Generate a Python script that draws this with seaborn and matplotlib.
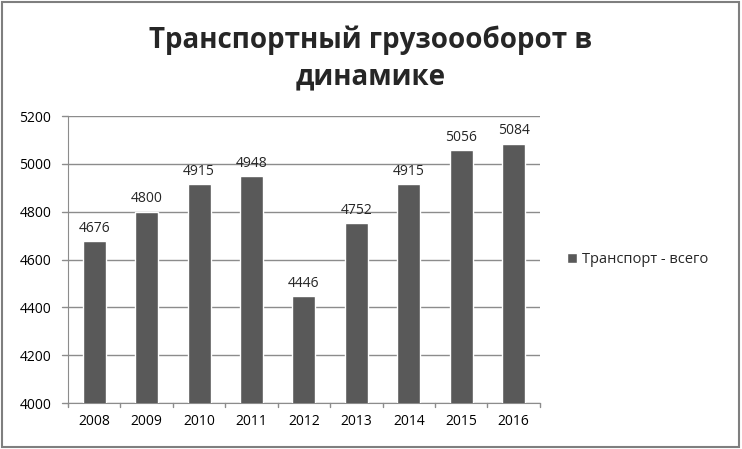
import pandas as pd
import seaborn as sns
import matplotlib.pyplot as plt
from matplotlib.patches import Rectangle

# Chart values
years = ['2008', '2009', '2010', '2011', '2012', '2013', '2014', '2015', '2016']
freight = [4676, 4800, 4915, 4948, 4446, 4752, 4915, 5056, 5084]
y_ticks = [4000, 4200, 4400, 4600, 4800, 5000, 5200]

df = pd.DataFrame({'Год': years, 'Транспорт - всего': freight})

sns.set_style("white")
plt.rcParams['font.family'] = ['Open Sans', 'DejaVu Sans']

fig = plt.figure(figsize=(7.42, 4.49), dpi=100)
ax = fig.add_axes([0.0916, 0.1024, 0.636, 0.6392])

sns.barplot(data=df, x='Год', y='Транспорт - всего', color='#595959',
            width=0.44, saturation=1, ax=ax, label='Транспорт - всего', zorder=3)

ax.set_ylim(4000, 5200)
ax.set_yticks(y_ticks)
ax.tick_params(axis='both', labelsize=10, colors='black', length=0, pad=8)
ax.tick_params(axis='y', pad=12)
ax.grid(axis='y', color='#8c8c8c', linewidth=1, zorder=0)
ax.set_xlabel('')
ax.set_ylabel('')
for side in ['top', 'right']:
    ax.spines[side].set_visible(False)
ax.spines['left'].set_color('#8c8c8c')
ax.spines['bottom'].set_color('#8c8c8c')

# small outward ticks
for y in y_ticks:
    ax.plot([-0.013, 0], [y, y], transform=ax.get_yaxis_transform(), color='#8c8c8c',
            lw=1, clip_on=False)
for i in range(len(years) + 1):
    ax.plot([i - 0.5, i - 0.5], [-0.015, 0], transform=ax.get_xaxis_transform(),
            color='#8c8c8c', lw=1, clip_on=False)
ax.set_xlim(-0.5, len(years) - 0.5)

ax.bar_label(ax.containers[0], fmt='%d', fontsize=10, padding=4)

fig.text(0.50, 0.91, 'Транспортный грузоооборот в', ha='center', va='center',
         fontsize=20, fontweight='bold')
fig.text(0.50, 0.828, 'динамике', ha='center', va='center',
         fontsize=20, fontweight='bold')

leg = ax.legend(loc='center left', bbox_to_anchor=(1.03, 0.5), frameon=False,
                fontsize=10.5, handlelength=0.7, handleheight=0.7, handletextpad=0.3)

fig.patches.append(Rectangle((0.003, 0.005), 0.993, 0.99, transform=fig.transFigure,
                             fill=False, edgecolor='#7f7f7f', linewidth=1.5))

plt.savefig('out.png', dpi=100)
